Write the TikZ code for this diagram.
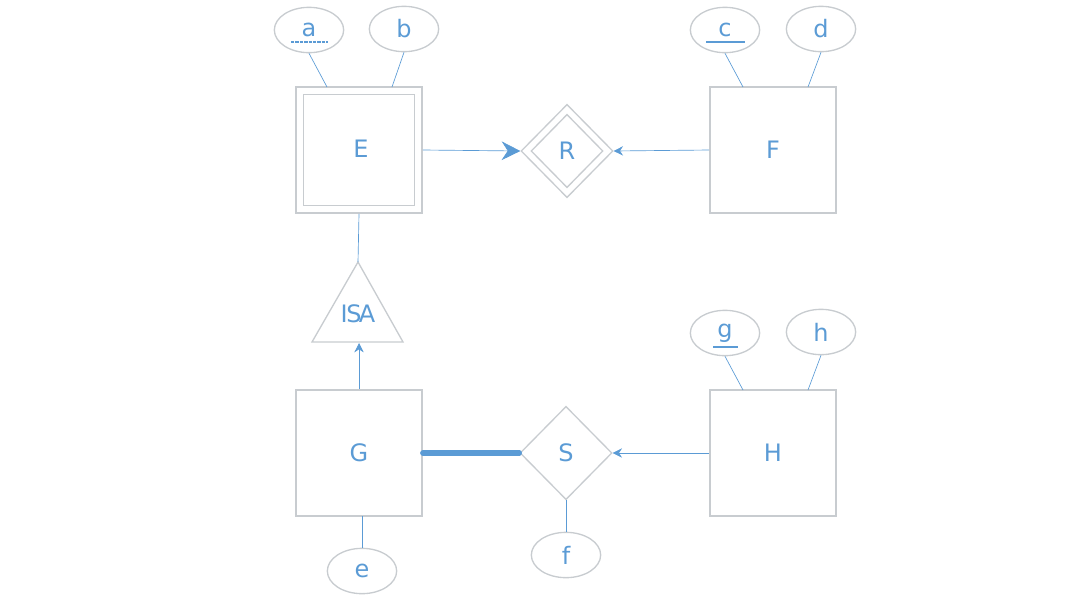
\documentclass[tikz,border=0pt]{standalone}
\usepackage{fontspec}
\setmainfont{DejaVu Sans}
\usetikzlibrary{shapes.geometric,arrows.meta}
\definecolor{bl}{HTML}{5B9BD5}
\definecolor{gr}{HTML}{C8CCD0}
\begin{document}
\begin{tikzpicture}[x=0.75pt,y=-0.75pt,
 ent/.style={draw=gr,line width=1.2pt,minimum width=94.5pt,minimum height=94.5pt,text=bl,font=\fontsize{18}{18}\selectfont,fill=white},
 att/.style={draw=gr,line width=1pt,ellipse,minimum width=52pt,minimum height=34pt,inner sep=0pt,text=bl,font=\fontsize{18}{18}\selectfont},
 rel/.style={draw=gr,diamond,minimum width=69pt,minimum height=70pt,inner sep=0pt,text=bl,font=\fontsize{18}{18}\selectfont,line width=1pt},
 ln/.style={draw=bl,line width=0.5pt},
 arr/.style={ln,-{Stealth[length=7pt,width=7pt]}}]
\useasboundingbox (0,0) rectangle (1069,604);
% E
\node[ent] (E) at (359,150) {};
\node[draw=gr,line width=1.2pt,minimum width=83pt,minimum height=83pt] (Ei) at (359,150) {};
\node[text=bl,font=\fontsize{18}{18}\selectfont] (Et) at (361,149) {E};
\node[att] (a) at (309,30) {a};
\draw[bl,line width=1.2pt,dash pattern=on 2.5pt off 0.8pt] (291,42) -- (328,42);
\node[att] (b) at (404,29) {b};
\draw[ln] (a.south) -- (327,87);
\draw[ln] (b.south) -- (392,87);
% R
\node[rel] (R) at (567,151) {};
\node[rel,minimum width=54pt,minimum height=55pt] (Ri) at (567,151) {R};
\draw[ln,-{Stealth[length=14pt,width=14pt]}] (E.east) -- (R.west);
% F
\node[ent] (F) at (773,150) {F};
\node[att] (c) at (725,30) {c};
\draw[bl,line width=1.5pt] (706,42) -- (745,42);
\node[att] (d) at (821,29) {d};
\draw[ln] (c.south) -- (743,87);
\draw[ln] (d.south) -- (808,87);
\draw[arr] (F.west) -- (R.east);
% ISA
\draw[gr,line width=1pt] (358,262) -- (403,342) -- (312,342) -- cycle;
\coordinate (isaT) at (358,262);
\coordinate (isaB) at (359,343);
\node[text=bl,font=\fontsize{18}{18}\selectfont] (isa) at (358,314) {I\kern-1ptS\kern-2ptA};
\draw[ln] (E.south) -- (isaT);
% G
\node[ent] (G) at (359,453) {G};
\draw[arr] (G.north) -- (isaB);
\node[att] (e) at (362,571) {e};
\draw[ln] (362,516) -- (e.north);
% S
\node[rel] (S) at (566,453) {S};
\draw[bl,line width=4pt,line cap=round] (G.east) -- (S.west);
\node[att] (f) at (566,555) {f};
\draw[ln] (S.south) -- (f);
% H
\node[ent] (H) at (773,453) {H};
\node[att] (g) at (725,333) {g};
\draw[bl,line width=1.5pt] (713,347) -- (738,347);
\node[att] (h) at (821,332) {h};
\draw[ln] (g.south) -- (743,390);
\draw[ln] (h.south) -- (808,390);
\draw[arr] (H.west) -- (S.east);
\end{tikzpicture}
\end{document}
